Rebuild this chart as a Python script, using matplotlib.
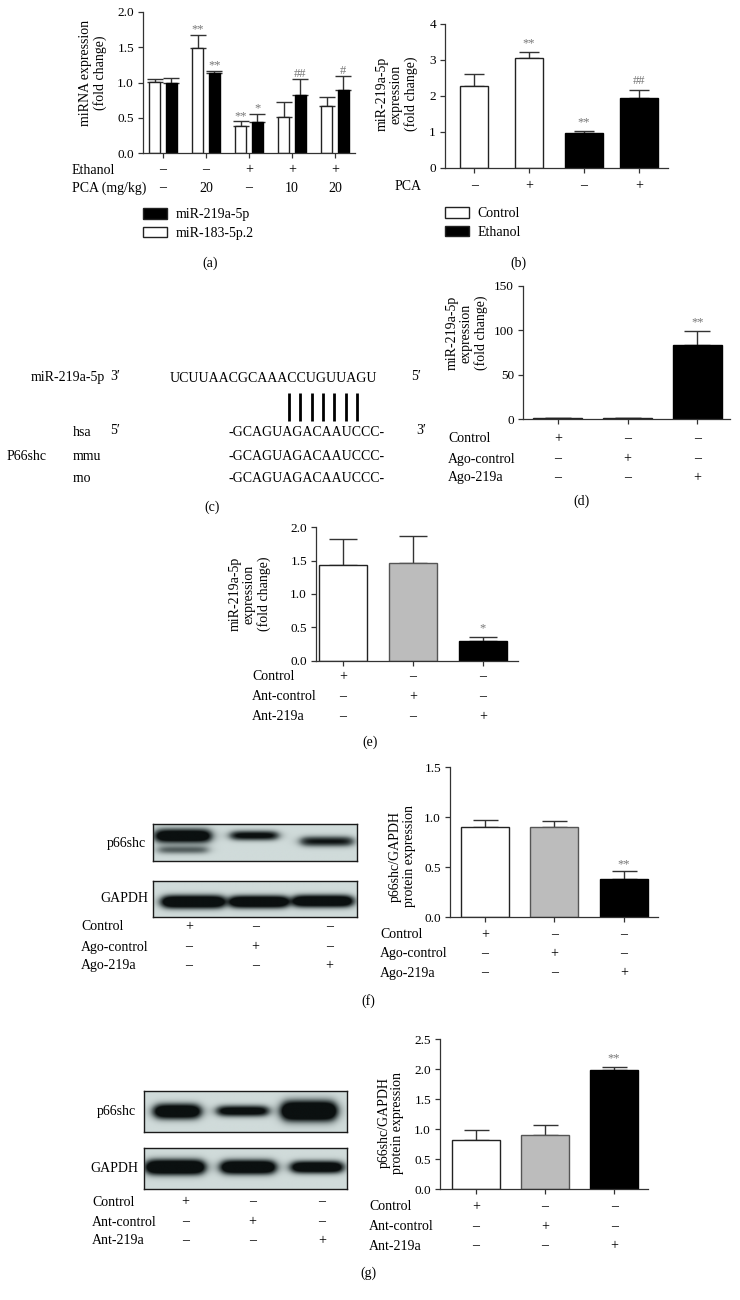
import numpy as np
import matplotlib
matplotlib.use('Agg')
import matplotlib.pyplot as plt
import matplotlib.transforms as mtrans
from matplotlib.patches import Patch
from matplotlib.colors import LinearSegmentedColormap

plt.rcParams['font.family'] = ['Liberation Serif', 'DejaVu Serif']
plt.rcParams['font.size'] = 10

W, H = 740, 1300

# ---- data ----
# (a) miRNA expression, two series per group
a_ethanol = ['–', '–', '+', '+', '+']
a_pca = ['–', '20', '–', '10', '20']
a_mir183 = [1.01, 1.49, 0.38, 0.51, 0.66]
a_mir183_err = [0.04, 0.19, 0.07, 0.22, 0.13]
a_mir183_sig = ['', '**', '**', '', '']
a_mir219 = [0.99, 1.13, 0.44, 0.82, 0.89]
a_mir219_err = [0.07, 0.04, 0.12, 0.23, 0.20]
a_mir219_sig = ['', '**', '*', '##', '#']

# (b) miR-219a-5p, control vs ethanol
b_pca = ['–', '+', '–', '+']
b_vals = [2.27, 3.06, 0.97, 1.94]
b_err = [0.34, 0.16, 0.07, 0.24]
b_sig = ['', '**', '**', '##']
b_group = ['Control', 'Control', 'Ethanol', 'Ethanol']

# (c) sequence alignment
mir_name = 'miR-219a-5p'
mir_seq = 'UCUUAACGCAAACCUGUUAGU'
target_seq = '-GCAGUAGACAAUCCC-'
species = ['hsa', 'mmu', 'rno']
n_pairs = 7

ago_rows = [('Control', ['+', '–', '–']),
            ('Ago-control', ['–', '+', '–']),
            ('Ago-219a', ['–', '–', '+'])]
ant_rows = [('Control', ['+', '–', '–']),
            ('Ant-control', ['–', '+', '–']),
            ('Ant-219a', ['–', '–', '+'])]

# (d) agomir
d_vals = [1.0, 1.1, 83.8]
d_err = [0.4, 0.4, 15.7]
d_sig = ['', '', '**']
# (e) antagomir
e_vals = [1.435, 1.47, 0.30]
e_err = [0.385, 0.39, 0.055]
e_sig = ['', '', '*']
# (f) p66shc/GAPDH after agomir
f_vals = [0.90, 0.90, 0.377]
f_err = [0.073, 0.063, 0.08]
f_sig = ['', '', '**']
# (g) p66shc/GAPDH after antagomir
g_vals = [0.817, 0.90, 1.98]
g_err = [0.173, 0.16, 0.05]
g_sig = ['', '', '**']

# blot bands: (lane x, y centre, half width, thickness, density)
f_p66_bands = [(0.44, 0.32, 0.39, 0.17, 1.7), (0.44, 0.70, 0.36, 0.11, 0.55),
               (1.49, 0.31, 0.33, 0.12, 1.2), (2.56, 0.47, 0.37, 0.13, 1.0)]
f_gapdh_bands = [(0.59, 0.58, 0.44, 0.16, 2.0), (1.56, 0.58, 0.41, 0.15, 2.0),
                 (2.50, 0.56, 0.42, 0.15, 1.9)]
g_p66_bands = [(0.49, 0.51, 0.32, 0.16, 1.9), (1.46, 0.50, 0.36, 0.12, 1.4),
               (2.44, 0.50, 0.38, 0.21, 2.3)]
g_gapdh_bands = [(0.46, 0.48, 0.41, 0.16, 2.1), (1.54, 0.48, 0.38, 0.15, 2.0),
                 (2.56, 0.48, 0.36, 0.13, 1.8)]
f_blot_lanes = [0.53, 1.51, 2.59]
g_blot_lanes = [0.61, 1.60, 2.63]

WHITE, GRAY, BLACK = '#ffffff', '#bcbcbc', '#000000'
EDGE = {WHITE: '#222222', GRAY: '#555555', BLACK: '#000000'}
SIGC = '#777777'

fig = plt.figure(figsize=(W / 100, H / 100), dpi=100)
ov = fig.add_axes([0, 0, 1, 1])
ov.set_xlim(0, W)
ov.set_ylim(H, 0)
ov.axis('off')


def add_ax(x0, x1, y0, y1):
    return fig.add_axes([x0 / W, 1 - y1 / H, (x1 - x0) / W, (y1 - y0) / H])


def style(ax, yticks, fmt):
    for s in ['top', 'right']:
        ax.spines[s].set_visible(False)
    for s in ['left', 'bottom']:
        ax.spines[s].set_color('#333333')
        ax.spines[s].set_linewidth(0.9)
    ax.set_yticks(yticks)
    ax.set_yticklabels([fmt.format(t) for t in yticks])
    ax.set_ylim(yticks[0], yticks[-1])
    ax.tick_params(axis='y', length=3.5, width=0.9, color='#333333', pad=3, labelsize=9.5)
    ax.tick_params(axis='x', length=3.5, width=0.9, color='#333333', labelbottom=False)
    ax.patch.set_alpha(0)


def draw_bars(ax, x, vals, errs, colors, width, capsize, sig, pad):
    ax.bar(x, vals, width, color=colors, edgecolor=[EDGE[c] for c in colors],
           linewidth=1.0, zorder=2)
    ax.errorbar(x, vals, yerr=[np.zeros(len(vals)), errs], fmt='none',
                ecolor='#333333', elinewidth=1.0, capsize=capsize, capthick=1.0, zorder=1)
    for xi, v, e, s in zip(x, vals, errs, sig):
        if s:
            ax.annotate(s, (xi, v + e), xytext=(0, pad), textcoords='offset points',
                        ha='center', va='baseline', color=SIGC, fontsize=9)


def sign_rows(ax, xs, rows, label_x, ys):
    tr = mtrans.blended_transform_factory(ax.transData, ov.transData)
    for (name, marks), y in zip(rows, ys):
        ov.text(label_x, y, name, ha='left', va='center')
        for xi, m in zip(xs, marks):
            ov.text(xi, y, m, transform=tr, ha='center', va='center')


def ylab(x, y, s):
    ov.text(x, y, s, rotation=90, ha='center', va='center',
            multialignment='center', linespacing=1.1)


blot_cmap = LinearSegmentedColormap.from_list('blot', ['#0b1010', '#5d6868', '#d0dbda'])


def blot(ax, bands):
    xs = np.linspace(0, 3, 420)
    ys = np.linspace(0, 1, 90)
    X, Y = np.meshgrid(xs, ys)
    dens = np.zeros_like(X)
    for lx, yc, hw, th, amp in bands:
        hx = 1 / (1 + np.exp((np.abs(X - lx) - hw) / 0.045))
        dens += amp * hx * np.exp(-((Y - yc) / th) ** 2)
    ax.imshow(1 - np.clip(dens, 0, 1), cmap=blot_cmap, vmin=0, vmax=1,
              extent=(0, 3, 1, 0), aspect='auto', interpolation='bilinear')
    ax.set_xlim(0, 3)
    ax.set_ylim(1, 0)
    ax.set_xticks([])
    ax.set_yticks([])
    for s in ax.spines.values():
        s.set_linewidth(1.0)
        s.set_color('#1a1a1a')


# ---- (a) ----
ax = add_ax(143, 355, 12, 153)
xa = np.arange(len(a_mir183))
draw_bars(ax, xa - 0.19, a_mir183, a_mir183_err, [WHITE] * 5, 0.26, 5.5, a_mir183_sig, 1.5)
draw_bars(ax, xa + 0.19, a_mir219, a_mir219_err, [BLACK] * 5, 0.26, 5.5, a_mir219_sig, 1.5)
style(ax, [0.0, 0.5, 1.0, 1.5, 2.0], '{:.1f}')
ax.set_xticks(xa)
ax.set_xlim(-0.465, 4.465)
sign_rows(ax, xa, [('Ethanol', a_ethanol), ('PCA (mg/kg)', a_pca)], 72, [170, 188])
ylab(93, 73, 'miRNA expression\n(fold change)')
fig.legend(handles=[Patch(facecolor=BLACK, edgecolor='#222222', label='miR-219a-5p'),
                    Patch(facecolor=WHITE, edgecolor='#222222', label='miR-183-5p.2')],
           loc='upper left', bbox_to_anchor=(143 / W, 1 - 208 / H), frameon=False,
           borderpad=0, borderaxespad=0, handlelength=1.7, handleheight=0.8,
           handletextpad=0.65, labelspacing=0.4, fontsize=10)
ov.text(210, 263, '(a)', ha='center', va='center')

# ---- (b) ----
ax = add_ax(445, 668, 24, 168)
xb = np.arange(len(b_vals))
b_colors = [WHITE if g == 'Control' else BLACK for g in b_group]
b_widths = [0.51 if g == 'Control' else 0.69 for g in b_group]
draw_bars(ax, xb, b_vals, b_err, b_colors, b_widths, 7, b_sig, 4)
style(ax, [0, 1, 2, 3, 4], '{:d}')
ax.set_xticks(xb)
ax.set_xlim(-0.53, 3.53)
sign_rows(ax, xb, [('PCA', b_pca)], 395, [186])
ylab(397, 94, 'miR-219a-5p\nexpression\n(fold change)')
fig.legend(handles=[Patch(facecolor=WHITE, edgecolor='#222222', label='Control'),
                    Patch(facecolor=BLACK, edgecolor='#222222', label='Ethanol')],
           loc='upper left', bbox_to_anchor=(445 / W, 1 - 207 / H), frameon=False,
           borderpad=0, borderaxespad=0, handlelength=1.7, handleheight=0.8,
           handletextpad=0.65, labelspacing=0.4, fontsize=10)
ov.text(518, 263, '(b)', ha='center', va='center')

# ---- (c) ----
ov.text(31, 378, mir_name, ha='left', va='center')
ov.text(110, 376, '3′', ha='left', va='center')
ov.text(170, 378, mir_seq, ha='left', va='center')
ov.text(411, 376, '5′', ha='left', va='center')
for xl in np.linspace(289, 357, n_pairs):
    ov.plot([xl, xl], [393, 421], color='black', lw=2.0, solid_capstyle='butt')
for sp, y in zip(species, [432, 456, 478]):
    ov.text(73, y, sp, ha='left', va='center')
    ov.text(307, y, target_seq, ha='center', va='center')
ov.text(110, 430, '5′', ha='left', va='center')
ov.text(416, 430, '3′', ha='left', va='center')
ov.text(7, 456, 'P66shc', ha='left', va='center')
ov.text(212, 507, '(c)', ha='center', va='center')

# ---- (d) ----
ax = add_ax(523, 730, 286, 419)
x3 = np.arange(3)
draw_bars(ax, x3, d_vals, d_err, [WHITE, WHITE, BLACK], 0.7, 9.5, d_sig, 4)
style(ax, [0, 50, 100, 150], '{:d}')
ax.set_xticks(x3)
ax.set_xlim(-0.5, 2.47)
sign_rows(ax, x3, ago_rows, 448, [439, 459, 478])
ylab(467, 333, 'miR-219a-5p\nexpression\n(fold change)')
ov.text(582, 501, '(d)', ha='center', va='center')

# ---- (e) ----
ax = add_ax(316, 518, 527, 661)
draw_bars(ax, x3, e_vals, e_err, [WHITE, GRAY, BLACK], 0.69, 10, e_sig, 4)
style(ax, [0.0, 0.5, 1.0, 1.5, 2.0], '{:.1f}')
ax.set_xticks(x3)
ax.set_xlim(-0.386, 2.5)
sign_rows(ax, x3, ant_rows, 252, [677, 697, 717])
ylab(250, 594, 'miR-219a-5p\nexpression\n(fold change)')
ov.text(370, 742, '(e)', ha='center', va='center')

# ---- (f) ----
bx = add_ax(153, 357, 824, 861)
blot(bx, f_p66_bands)
bx2 = add_ax(153, 357, 881, 917)
blot(bx2, f_gapdh_bands)
ov.text(146, 843, 'p66shc', ha='right', va='center')
ov.text(148, 898, 'GAPDH', ha='right', va='center')
sign_rows(bx2, f_blot_lanes, ago_rows, 81, [927, 947, 966])

ax = add_ax(450, 658, 767, 917)
draw_bars(ax, x3, f_vals, f_err, [WHITE, GRAY, BLACK], 0.69, 9, f_sig, 3)
style(ax, [0.0, 0.5, 1.0, 1.5], '{:.1f}')
ax.set_xticks(x3)
ax.set_xlim(-0.5, 2.49)
sign_rows(ax, x3, ago_rows, 380, [935, 954, 973])
ylab(402, 856, 'p66shc/GAPDH\nprotein expression')
ov.text(368, 1001, '(f)', ha='center', va='center')

# ---- (g) ----
bx = add_ax(144, 347, 1091, 1132)
blot(bx, g_p66_bands)
bx2 = add_ax(144, 347, 1148, 1189)
blot(bx2, g_gapdh_bands)
ov.text(136, 1112, 'p66shc', ha='right', va='center')
ov.text(138, 1168, 'GAPDH', ha='right', va='center')
sign_rows(bx2, g_blot_lanes, ant_rows, 92, [1202, 1222, 1241])

ax = add_ax(440, 648, 1039, 1189)
draw_bars(ax, x3, g_vals, g_err, [WHITE, GRAY, BLACK], 0.69, 9, g_sig, 4)
style(ax, [0.0, 0.5, 1.0, 1.5, 2.0, 2.5], '{:.1f}')
ax.set_xticks(x3)
ax.set_xlim(-0.52, 2.49)
sign_rows(ax, x3, ant_rows, 369, [1207, 1227, 1246])
ylab(391, 1123, 'p66shc/GAPDH\nprotein expression')
ov.text(368, 1273, '(g)', ha='center', va='center')

fig.savefig('out.png', dpi=100, facecolor='white')
